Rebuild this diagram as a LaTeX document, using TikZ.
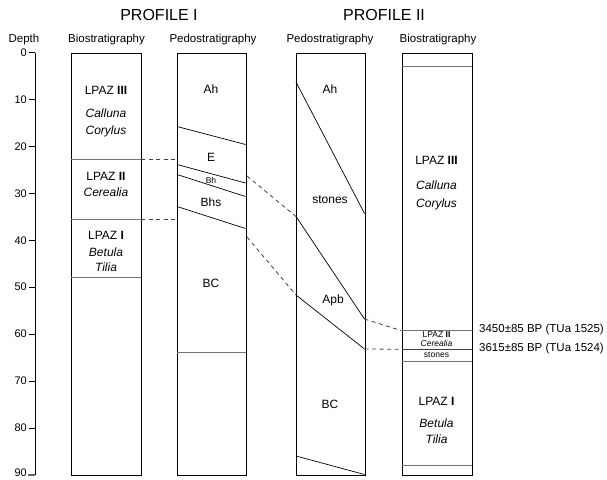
\documentclass[tikz,border=0pt]{standalone}
\usepackage{fontspec}
\setmainfont{Liberation Sans}
\begin{document}
\begin{tikzpicture}[x=1pt,y=-1pt,
  col/.style={draw=black,line width=1.2pt,minimum height=422pt,inner sep=0pt,anchor=north west},
  zone/.style={draw=black!55,line width=0.9pt},
  hor/.style={draw=black,line width=0.7pt},
  corr/.style={draw=black!75,line width=0.8pt,dash pattern=on 4pt off 3.5pt},
  lab/.style={font=\fontsize{12}{14}\selectfont,inner sep=0pt},
  taxon/.style={font=\fontsize{12}{14}\selectfont\itshape,inner sep=0pt},
  small/.style={font=\fontsize{8.5}{9}\selectfont,inner sep=0pt},
  smallit/.style={font=\fontsize{8.5}{9}\selectfont\itshape,inner sep=0pt},
  head/.style={font=\fontsize{11.5}{13}\selectfont,inner sep=0pt},
  title/.style={font=\fontsize{16}{18}\selectfont,inner sep=0pt},
  tick/.style={font=\fontsize{11}{13}\selectfont,inner sep=0pt,anchor=east},
  date/.style={font=\fontsize{11.5}{13}\selectfont,inner sep=0pt,anchor=west}]
\useasboundingbox (0,0) rectangle (607,479);
% titles
\node[title] (t1) at (159,15) {PROFILE I};
\node[title] (t2) at (384,15) {PROFILE II};
\node[head] (hd) at (24,40) {Depth};
\node[head] (h1) at (106.5,40) {Biostratigraphy};
\node[head] (h2) at (213,40) {Pedostratigraphy};
\node[head] (h3) at (330,40) {Pedostratigraphy};
\node[head] (h4) at (438,40) {Biostratigraphy};
% depth axis
\coordinate (ax0) at (35,52.5);
\coordinate (ax90) at (35,475);
\draw[line width=0.9pt] (ax0) -- (ax90);
\foreach \d [count=\i from 0] in {0,10,...,80} {
  \coordinate (tk\i) at (35,52.5+4.694*\d);
  \draw[line width=0.8pt] (tk\i) -- ++(-6,0);
  \node[tick] (tl\i) at (27,52.5+4.694*\d) {\d};
}
\coordinate (tk9) at (35,475);
\draw[line width=1.8pt,black!60] (tk9) -- ++(-7,0);
\node[tick] (tl9) at (27,473) {90};
% columns
\node[col,minimum width=70pt] (c1) at (71,53) {};
\node[col,minimum width=68.5pt] (c2) at (177,53) {};
\node[col,minimum width=68.5pt] (c3) at (296,53) {};
\node[col,minimum width=70.5pt] (c4) at (401.5,53) {};
% column 1 zones
\foreach \y/\n in {159/a,219/b,277.5/c} {
  \coordinate (c1l\n) at (71,\y); \coordinate (c1r\n) at (141,\y);
  \draw[zone] (c1l\n) -- (c1r\n);
}
\node[lab] (l1a) at (106,90) {LPAZ \textbf{III}};
\node[taxon] (l1b) at (106,113) {Calluna};
\node[taxon] (l1c) at (106,131) {Corylus};
\node[lab] (l1d) at (106,176) {LPAZ \textbf{II}};
\node[taxon] (l1e) at (106,192) {Cerealia};
\node[lab] (l1f) at (106,235) {LPAZ \textbf{I}};
\node[taxon] (l1g) at (106,252) {Betula};
\node[taxon] (l1h) at (106,267) {Tilia};
% column 2 horizons
\coordinate (c2a1) at (177,126.5); \coordinate (c2a2) at (245.5,144.5);
\coordinate (c2b1) at (177,164.5); \coordinate (c2b2) at (245.5,183);
\coordinate (c2c1) at (177,174.5); \coordinate (c2c2) at (245.5,196.5);
\coordinate (c2d1) at (177,206.5); \coordinate (c2d2) at (245.5,228.5);
\draw[hor] (c2a1) -- (c2a2);
\draw[hor] (c2b1) -- (c2b2);
\draw[hor] (c2c1) -- (c2c2);
\draw[hor] (c2d1) -- (c2d2);
\coordinate (c2e1) at (177,352.5); \coordinate (c2e2) at (245.5,352.5);
\draw[zone] (c2e1) -- (c2e2);
\node[lab] (l2a) at (211,89) {Ah};
\node[lab] (l2b) at (211,157) {E};
\node[small] (l2c) at (211,180) {Bh};
\node[lab] (l2d) at (211,202) {Bhs};
\node[lab] (l2e) at (211,283) {BC};
% column 3 horizons
\coordinate (c3a1) at (296,82); \coordinate (c3a2) at (364.5,213.5);
\coordinate (c3b1) at (296,216.5); \coordinate (c3b2) at (364.5,319);
\coordinate (c3c1) at (296,295); \coordinate (c3c2) at (364.5,349);
\coordinate (c3d1) at (296,456); \coordinate (c3d2) at (364.5,474.5);
\draw[hor] (c3a1) -- (c3a2);
\draw[hor] (c3b1) -- (c3b2);
\draw[hor] (c3c1) -- (c3c2);
\draw[hor] (c3d1) -- (c3d2);
\node[lab] (l3a) at (330,89) {Ah};
\node[lab] (l3b) at (330,200) {stones};
\node[lab] (l3c) at (333,300) {Apb};
\node[lab] (l3d) at (330,404) {BC};
% column 4 zones
\foreach \y/\n in {66/a,330.7/b,361.7/d,465.7/e} {
  \coordinate (c4l\n) at (401.5,\y); \coordinate (c4r\n) at (472,\y);
  \draw[zone] (c4l\n) -- (c4r\n);
}
\coordinate (c4lc) at (401.5,349.3); \coordinate (c4rc) at (472,349.3);
\draw[zone,draw=black!75] (c4lc) -- (c4rc);
\node[lab] (l4a) at (436.5,160) {LPAZ \textbf{III}};
\node[taxon] (l4b) at (436.5,185) {Calluna};
\node[taxon] (l4c) at (436.5,204) {Corylus};
\node[small] (l4d) at (436.5,334.8) {LPAZ \textbf{II}};
\node[smallit] (l4e) at (436.5,343) {Cerealia};
\node[small] (l4f) at (436.5,355) {stones};
\node[lab] (l4g) at (436.5,401) {LPAZ \textbf{I}};
\node[taxon] (l4h) at (436.5,423) {Betula};
\node[taxon] (l4i) at (436.5,439) {Tilia};
% correlation lines
\coordinate (k1a) at (141,159); \coordinate (k1b) at (177,159);
\coordinate (k2a) at (141,219); \coordinate (k2b) at (177,219);
\coordinate (k3a) at (247,176);
\coordinate (k4a) at (247,237);
\draw[corr] (k1a) -- (k1b);
\draw[corr] (k2a) -- (k2b);
\draw[corr] (k3a) -- (c3b1);
\draw[corr] (k4a) -- (c3c1);
\draw[corr] (c3b2) -- (c4lb);
\draw[corr] (c3c2) -- (c4lc);
% dates
\node[date] (d1) at (479,330) {3450±85 BP (TUa 1525)};
\node[date] (d2) at (479,349) {3615±85 BP (TUa 1524)};
\end{tikzpicture}
\end{document}
